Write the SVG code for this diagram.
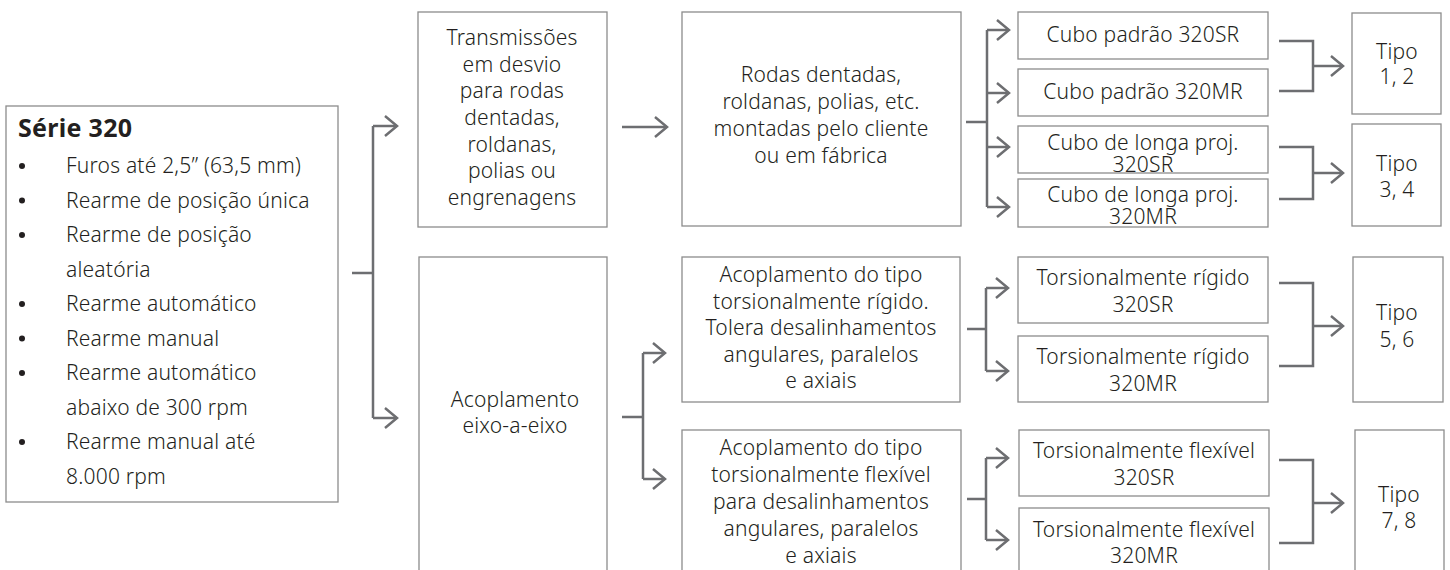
<svg xmlns="http://www.w3.org/2000/svg" width="1450" height="570" viewBox="0 0 1450 570">
<defs>
<style>
.box{fill:#fff;stroke:#8c8c8c;stroke-width:1.3}
.t{font-family:"Noto Sans","Open Sans",sans-serif;font-size:21px;font-weight:300;letter-spacing:0.2px;fill:#231f20;text-anchor:middle}
.l{font-family:"Noto Sans","Open Sans",sans-serif;font-size:21px;font-weight:300;letter-spacing:0.2px;fill:#231f20}
.b{font-family:"Noto Sans","Open Sans",sans-serif;font-size:25px;font-weight:bold;letter-spacing:0.3px;fill:#231f20}
.c{fill:none;stroke:#6d6e71;stroke-width:2.5}
.a{fill:none;stroke:#6d6e71;stroke-width:2.5;marker-end:url(#ah)}
</style>
<marker id="ah" markerUnits="userSpaceOnUse" markerWidth="20" markerHeight="26" refX="14" refY="13" orient="auto" viewBox="0 0 20 26">
<path d="M2,3 L14,13 L2,23" fill="none" stroke="#6d6e71" stroke-width="2.5"/>
</marker>
</defs>
<rect width="1450" height="570" fill="#fff"/>

<g id="serie320">
<rect class="box" x="6" y="106" width="332" height="396"/>
<text class="b" x="18" y="137">Série 320</text>
<g fill="#231f20">
<circle cx="22" cy="166" r="3"/><circle cx="22" cy="200.5" r="3"/><circle cx="22" cy="235" r="3"/><circle cx="22" cy="304" r="3"/><circle cx="22" cy="338.5" r="3"/><circle cx="22" cy="373" r="3"/><circle cx="22" cy="442" r="3"/>
</g>
<text class="l" x="66" y="173">Furos até 2,5” (63,5 mm)</text>
<text class="l" x="66" y="207.5">Rearme de posição única</text>
<text class="l" x="66" y="242">Rearme de posição</text>
<text class="l" x="66" y="276.5">aleatória</text>
<text class="l" x="66" y="311">Rearme automático</text>
<text class="l" x="66" y="345.5">Rearme manual</text>
<text class="l" x="66" y="380">Rearme automático</text>
<text class="l" x="66" y="414.5">abaixo de 300 rpm</text>
<text class="l" x="66" y="449">Rearme manual até</text>
<text class="l" x="66" y="483.5">8.000 rpm</text>
</g>

<g id="transmissoes">
<rect class="box" x="418" y="12" width="189" height="215"/>
<text class="t" x="512" y="45">Transmissões</text>
<text class="t" x="512" y="72">em desvio</text>
<text class="t" x="512" y="98">para rodas</text>
<text class="t" x="512" y="125">dentadas,</text>
<text class="t" x="512" y="152">roldanas,</text>
<text class="t" x="512" y="178">polias ou</text>
<text class="t" x="512" y="205">engrenagens</text>
</g>

<g id="eixo">
<rect class="box" x="419" y="257" width="188" height="320"/>
<text class="t" x="515" y="407">Acoplamento</text>
<text class="t" x="515" y="433">eixo-a-eixo</text>
</g>

<g id="rodas">
<rect class="box" x="682" y="12" width="279" height="214"/>
<text class="t" x="821" y="82">Rodas dentadas,</text>
<text class="t" x="821" y="109">roldanas, polias, etc.</text>
<text class="t" x="821" y="136">montadas pelo cliente</text>
<text class="t" x="821" y="163">ou em fábrica</text>
</g>

<g id="rigido">
<rect class="box" x="682" y="257" width="278" height="145"/>
<text class="t" x="821" y="282">Acoplamento do tipo</text>
<text class="t" x="821" y="308.5">torsionalmente rígido.</text>
<text class="t" x="821" y="335">Tolera desalinhamentos</text>
<text class="t" x="821" y="361.5">angulares, paralelos</text>
<text class="t" x="821" y="388">e axiais</text>
</g>

<g id="flexivel">
<rect class="box" x="682" y="430" width="279" height="147"/>
<text class="t" x="821" y="455">Acoplamento do tipo</text>
<text class="t" x="821" y="482">torsionalmente flexível</text>
<text class="t" x="821" y="509">para desalinhamentos</text>
<text class="t" x="821" y="536">angulares, paralelos</text>
<text class="t" x="821" y="563">e axiais</text>
</g>

<g id="cubo-sr">
<rect class="box" x="1018" y="12" width="250" height="47"/>
<text class="t" x="1143" y="42">Cubo padrão 320SR</text>
</g>
<g id="cubo-mr">
<rect class="box" x="1018" y="69" width="250" height="47"/>
<text class="t" x="1143" y="99">Cubo padrão 320MR</text>
</g>
<g id="longa-sr">
<rect class="box" x="1018" y="126" width="250" height="47"/>
<text class="t" x="1143" y="150">Cubo de longa proj.</text>
<text class="t" x="1143" y="172">320SR</text>
</g>
<g id="longa-mr">
<rect class="box" x="1018" y="179" width="250" height="48"/>
<text class="t" x="1143" y="202">Cubo de longa proj.</text>
<text class="t" x="1143" y="224">320MR</text>
</g>

<g id="rig-sr">
<rect class="box" x="1018" y="257" width="250" height="66"/>
<text class="t" x="1143" y="285">Torsionalmente rígido</text>
<text class="t" x="1143" y="312">320SR</text>
</g>
<g id="rig-mr">
<rect class="box" x="1018" y="336" width="250" height="66"/>
<text class="t" x="1143" y="364">Torsionalmente rígido</text>
<text class="t" x="1143" y="391">320MR</text>
</g>
<g id="flex-sr">
<rect class="box" x="1019" y="430" width="250" height="66"/>
<text class="t" x="1144" y="458">Torsionalmente flexível</text>
<text class="t" x="1144" y="485">320SR</text>
</g>
<g id="flex-mr">
<rect class="box" x="1019" y="508" width="250" height="69"/>
<text class="t" x="1144" y="537">Torsionalmente flexível</text>
<text class="t" x="1144" y="563">320MR</text>
</g>

<g id="tipo12">
<rect class="box" x="1352" y="13" width="89" height="101"/>
<text class="t" x="1397" y="59">Tipo</text>
<text class="t" x="1397" y="84">1, 2</text>
</g>
<g id="tipo34">
<rect class="box" x="1352" y="124" width="89" height="102"/>
<text class="t" x="1397" y="171">Tipo</text>
<text class="t" x="1397" y="197">3, 4</text>
</g>
<g id="tipo56">
<rect class="box" x="1353" y="257" width="90" height="145"/>
<text class="t" x="1397" y="320">Tipo</text>
<text class="t" x="1397" y="347">5, 6</text>
</g>
<g id="tipo78">
<rect class="box" x="1355" y="430" width="89" height="147"/>
<text class="t" x="1399" y="502">Tipo</text>
<text class="t" x="1399" y="528">7, 8</text>
</g>

<g id="connectors">
<path class="c" d="M352,273 H373 M373,126 V418"/>
<path class="a" d="M373,126 H397"/>
<path class="a" d="M373,418 H397"/>
<path class="a" d="M622,127 H667"/>
<path class="c" d="M966,122 H987 M987,30 V207"/>
<path class="a" d="M987,30 H1009"/>
<path class="a" d="M987,93 H1009"/>
<path class="a" d="M987,147 H1009"/>
<path class="a" d="M987,207 H1009"/>
<path class="c" d="M1279,41 H1313 V91 H1279"/>
<path class="a" d="M1313,66 H1343"/>
<path class="c" d="M1279,147 H1313 V199 H1279"/>
<path class="a" d="M1313,173 H1343"/>
<path class="c" d="M622,417 H643 M643,353 V479"/>
<path class="a" d="M643,353 H665"/>
<path class="a" d="M643,479 H665"/>
<path class="c" d="M967,329 H986 M986,288 V371"/>
<path class="a" d="M986,288 H1008"/>
<path class="a" d="M986,371 H1008"/>
<path class="c" d="M967,499 H986 M986,458 V540"/>
<path class="a" d="M986,458 H1008"/>
<path class="a" d="M986,540 H1008"/>
<path class="c" d="M1279,283 H1313 V366 H1279"/>
<path class="a" d="M1313,326 H1343"/>
<path class="c" d="M1279,460 H1313 V543 H1279"/>
<path class="a" d="M1313,503 H1343"/>
</g>
</svg>
